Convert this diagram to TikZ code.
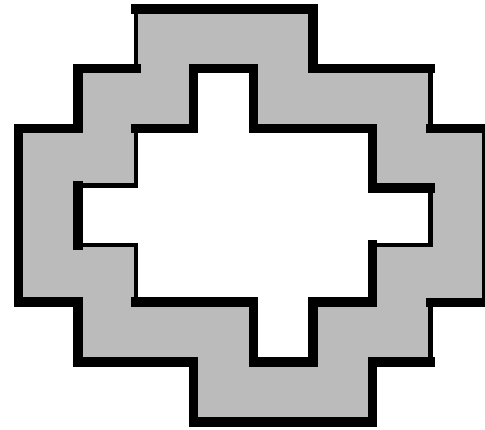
\documentclass[tikz,border=0pt]{standalone}
\usepackage{tikz}
\definecolor{ringgray}{RGB}{187,187,187}
\tikzset{
  ring/.style={fill=ringgray, even odd rule},
  wide/.style={draw=black, line width=9.5pt, line join=miter, line cap=rect},
  slim/.style={draw=black, line width=4.8pt, line join=miter, line cap=rect},
}
\begin{document}
\begin{tikzpicture}[x=1pt,y=-1pt]
\useasboundingbox (0,0) rectangle (485,429);
% grey ring
\path[ring] (136,9) -- (313,9) -- (313,68.5) -- (430.5,68.5) -- (430.5,128.5) -- (487,128.5)
  -- (487,302.5) -- (430.5,302.5) -- (430.5,362) -- (372.5,362) -- (372.5,422) -- (193.5,422)
  -- (193.5,362) -- (78,362) -- (78,302) -- (18.5,302) -- (18.5,128.5) -- (78,128.5)
  -- (78,68.5) -- (136,68.5) -- cycle
  (193.5,68.5) -- (253.5,68.5) -- (253.5,128.5) -- (372.5,128.5) -- (372.5,188) -- (430.5,188)
  -- (430.5,245) -- (372.5,245) -- (372.5,302) -- (313,302) -- (313,362) -- (253.5,362)
  -- (253.5,302) -- (136,302) -- (136,245) -- (78,245) -- (78,185.5) -- (136,185.5)
  -- (136,128.5) -- (193.5,128.5) -- cycle;
% outer outline
\draw[wide] (136,9) -- (313,9) -- (313,68.5) -- (430.5,68.5);
\draw[wide] (430.5,128.5) -- (487,128.5) -- (487,302.5) -- (430.5,302.5);
\draw[wide] (430.5,362) -- (372.5,362) -- (372.5,422) -- (193.5,422) -- (193.5,362)
  -- (78,362) -- (78,302) -- (18.5,302) -- (18.5,128.5) -- (78,128.5) -- (78,68.5) -- (136,68.5);
\draw[slim] (136,68.5) -- (136,9);
\draw[slim] (430.5,68.5) -- (430.5,128.5);
\draw[slim] (430.5,302.5) -- (430.5,362);
% inner outline
\draw[wide] (136,128.5) -- (193.5,128.5) -- (193.5,68.5) -- (253.5,68.5) -- (253.5,128.5)
  -- (372.5,128.5) -- (372.5,188) -- (430.5,188);
\draw[wide] (372.5,245) -- (372.5,302) -- (313,302) -- (313,362) -- (253.5,362)
  -- (253.5,302) -- (136,302);
\draw[wide] (78,245) -- (78,185.5);
\draw[slim] (430.5,188) -- (430.5,245) -- (372.5,245);
\draw[slim] (136,302) -- (136,245) -- (78,245);
\draw[slim] (78,185.5) -- (136,185.5) -- (136,128.5);
\end{tikzpicture}
\end{document}
